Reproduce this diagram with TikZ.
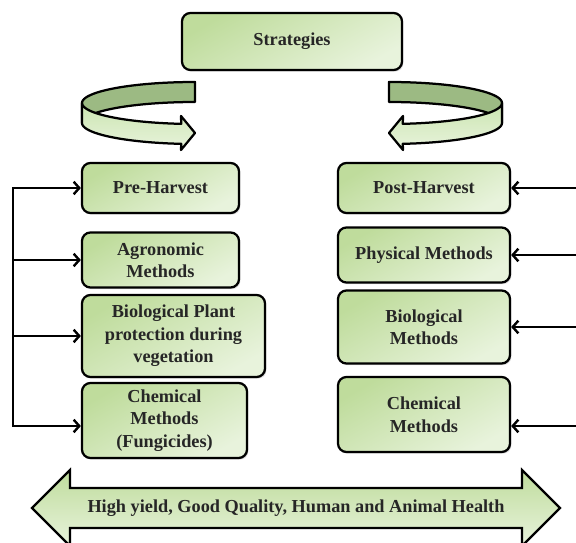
\documentclass[tikz,border=0pt]{standalone}
\usepackage{fontspec}
\setmainfont{Liberation Serif}
\usetikzlibrary{arrows.meta,shadows}
\definecolor{boxdark}{HTML}{BFDC9C}
\definecolor{boxlight}{HTML}{E8F3DC}
\definecolor{ringback}{HTML}{9CBA83}
\definecolor{ringfront}{HTML}{CBE5B1}
\begin{document}
\begin{tikzpicture}[x=0.025cm,y=-0.025cm,>={Straight Barb[length=4pt,width=9pt]},
    font=\fontsize{13}{16}\selectfont\bfseries,
    box/.style={draw,line width=1.6pt,rounded corners=6pt,align=center,inner sep=2pt,
        top color=boxdark,bottom color=boxlight,shading angle=30,text=black!85,
        drop shadow={opacity=.25,shadow xshift=1pt,shadow yshift=-1.2pt}},
    link/.style={->,line width=1.7pt},
    swirl/.pic={
        % back side of the ring
        \draw[line width=1.6pt,line join=round,fill=ringback]
            plot[domain=90:180,smooth,variable=\t] ({113*cos(\t)},{-21*sin(\t)})
            -- plot[domain=180:90,smooth,variable=\t] ({113*cos(\t)},{20-21*sin(\t)}) -- cycle;
        % front side with the head
        \draw[line width=1.6pt,line join=round,top color=ringfront,bottom color=boxlight]
            plot[domain=180:263,smooth,variable=\t] ({113*cos(\t)},{-21*sin(\t)})
            -- (-14,13) -- (0,30) -- (-14,47)
            -- plot[domain=263:180,smooth,variable=\t] ({113*cos(\t)},{20-21*sin(\t)}) -- cycle;
    }]
    \def\pw{0.025cm}
    \clip (0,0) rectangle (576,543);

    \node[box,minimum width=220*\pw,minimum height=57*\pw] (strat) at (292,41.5) {Strategies};

    \pic at (195,103) {swirl};
    \pic[xscale=-1] at (389,103) {swirl};

    \node[box,minimum width=157*\pw,minimum height=50*\pw] (pre) at (160.5,188) {Pre-Harvest};
    \node[box,minimum width=157*\pw,minimum height=55*\pw] (agro) at (160.5,260) {Agronomic\\Methods};
    \node[box,minimum width=183*\pw,minimum height=82*\pw] (bioplant) at (173.5,336) {Biological Plant\\protection during\\vegetation};
    \node[box,minimum width=165*\pw,minimum height=75*\pw] (chemfung) at (164.5,420.5) {Chemical\\Methods\\(Fungicides)};

    \node[box,minimum width=172*\pw,minimum height=50*\pw] (post) at (424,188) {Post-Harvest};
    \node[box,minimum width=172*\pw,minimum height=55*\pw] (phys) at (424,255) {Physical Methods};
    \node[box,minimum width=172*\pw,minimum height=73*\pw] (biom) at (424,327) {Biological\\Methods};
    \node[box,minimum width=172*\pw,minimum height=75*\pw] (chemm) at (424,414.5) {Chemical\\Methods};

    \coordinate (ltrunk) at (13,0);
    \coordinate (redge) at (576,0);
    \coordinate (chemrow) at (0,426);

    \draw[link] (ltrunk |- chemrow) |- (pre.west);
    \draw[link] (pre.west -| ltrunk) |- (chemfung.west |- chemrow);
    \draw[link] (agro.west -| ltrunk) -- (agro.west);
    \draw[link] (bioplant.west -| ltrunk) -- (bioplant.west);

    \draw[link] (post.east -| redge) -- (post.east);
    \draw[link] (phys.east -| redge) -- (phys.east);
    \draw[link] (biom.east -| redge) -- (biom.east);
    \draw[link] (redge |- chemrow) -- (chemm.east |- chemrow);

    % goal arrow
    \draw[line width=1.6pt,line join=miter,top color=boxdark,bottom color=boxlight]
        (32,508) -- (70,470) -- (70,488) -- (522,488) -- (522,470) -- (560,508)
        -- (522,546) -- (522,528) -- (70,528) -- (70,546) -- cycle;
    \node[text=black!85] (goal) at (296,508) {High yield, Good Quality, Human and Animal Health};
\end{tikzpicture}
\end{document}
